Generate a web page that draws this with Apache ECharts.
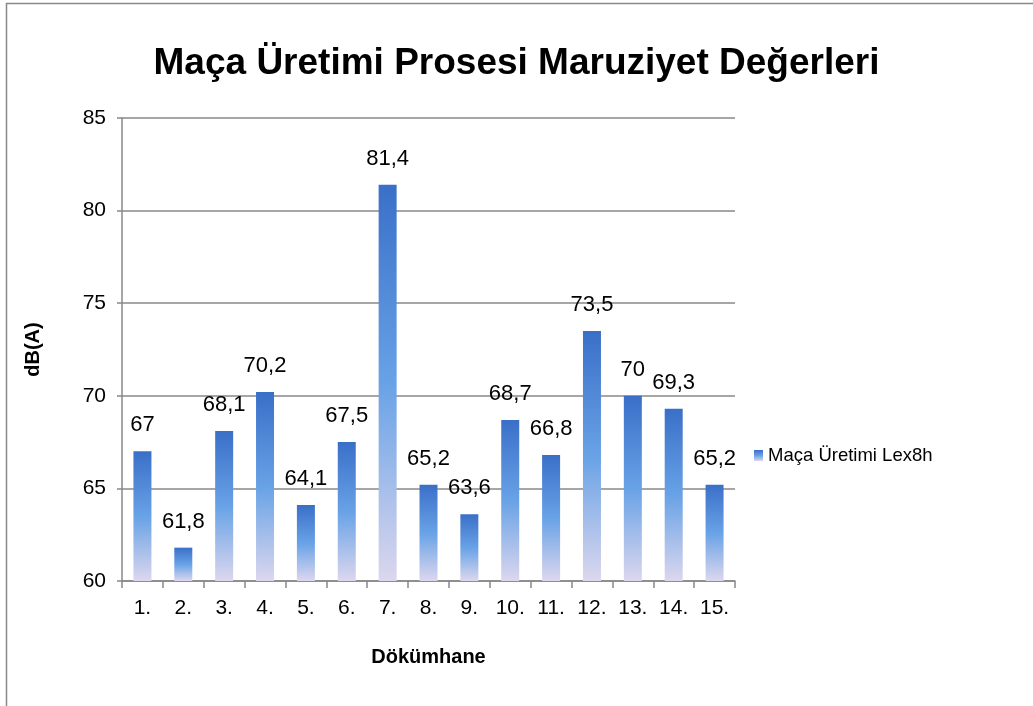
<!DOCTYPE html>
<html><head><meta charset="utf-8">
<script src="https://cdn.jsdelivr.net/npm/echarts@6/dist/echarts.min.js"></script>
<style>html,body{margin:0;padding:0;background:#fff}#c{width:1033px;height:706px}</style>
</head><body><div id="c"></div>
<script>
const categories = ['1.','2.','3.','4.','5.','6.','7.','8.','9.','10.','11.','12.','13.','14.','15.'];
const values = [67, 61.8, 68.1, 70.2, 64.1, 67.5, 81.4, 65.2, 63.6, 68.7, 66.8, 73.5, 70, 69.3, 65.2];
const seriesName = 'Maça Üretimi Lex8h';
const titleText = 'Maça Üretimi Prosesi Maruziyet Değerleri';
const yName = 'dB(A)';
const xName = 'Dökümhane';

const FONT = 'Liberation Sans';
const chart = echarts.init(document.getElementById('c'), null, {renderer: 'canvas'});
chart.setOption({
  animation: false,
  textStyle: {fontFamily: FONT},
  graphic: [{type: 'rect', shape: {x: 6.5, y: 3.5, width: 1100, height: 800}, style: {fill: 'none', stroke: '#888', lineWidth: 1.5}, silent: true}],
  title: {text: titleText, left: 'center', top: 40, textStyle: {fontFamily: FONT, fontWeight: 'bold', fontSize: 37, color: '#000'}},
  legend: {data: [seriesName], orient: 'vertical', left: 749, top: 441, itemWidth: 9, itemHeight: 11, itemGap: 5,
    textStyle: {fontFamily: FONT, fontSize: 18.5, color: '#000'}, icon: 'rect'},
  grid: {left: 122, right: 298, top: 118, bottom: 125, containLabel: false},
  xAxis: {type: 'category', data: categories, name: xName, nameLocation: 'middle', nameGap: 66,
    nameTextStyle: {fontFamily: FONT, fontWeight: 'bold', fontSize: 20, color: '#000'},
    axisLine: {lineStyle: {color: '#888', width: 1.5}},
    axisTick: {show: true, length: 7, lineStyle: {color: '#888', width: 1.5}},
    axisLabel: {fontFamily: FONT, fontSize: 21, color: '#000', margin: 17, interval: 0}},
  yAxis: {type: 'value', min: 60, max: 85, interval: 5, name: yName, nameLocation: 'middle', nameGap: 79,
    nameTextStyle: {fontFamily: FONT, fontWeight: 'bold', fontSize: 20, color: '#000'},
    axisLine: {show: true, lineStyle: {color: '#888', width: 1.5}},
    axisTick: {show: true, length: 5, lineStyle: {color: '#888', width: 1.5}},
    splitLine: {lineStyle: {color: '#888', width: 1.5}},
    axisLabel: {fontFamily: FONT, fontSize: 21, color: '#000', margin: 16}},
  series: [{
    name: seriesName, type: 'bar', data: values, barWidth: 18,
    itemStyle: {color: new echarts.graphic.LinearGradient(0, 0, 0, 1, [
      {offset: 0, color: '#3a6fc8'}, {offset: 0.5, color: '#68a2e6'}, {offset: 1, color: '#dcd7ee'}])},
    label: {show: true, position: 'top', distance: 15, fontFamily: FONT, fontSize: 22, color: '#000',
      formatter: p => String(p.value).replace('.', ',')}
  }]
});
</script></body></html>
